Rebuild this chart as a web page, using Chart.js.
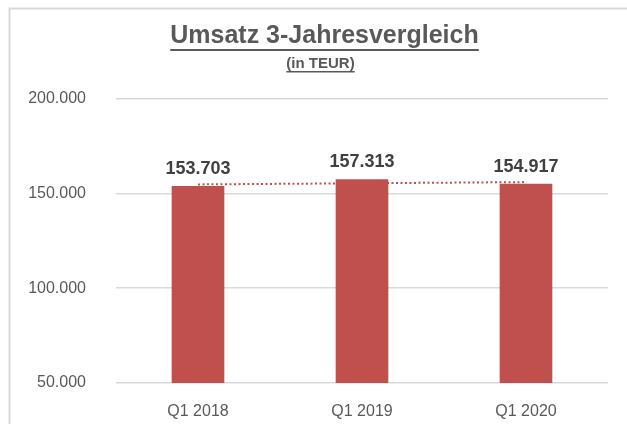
<!DOCTYPE html>
<html>
<head>
<meta charset="utf-8">
<script src="https://cdn.jsdelivr.net/npm/chart.js@4"></script>
<style>
    html, body { margin: 0; padding: 0; background: #fff; }
    #wrap { width: 627px; height: 424px; position: relative; }
</style>
</head>
<body>
<div id="wrap"><canvas id="umsatz-chart"></canvas></div>
<script>
// Umsatz 3-Jahresvergleich - bar chart with dotted linear trend

const quarters = ['Q1 2018', 'Q1 2019', 'Q1 2020'];
const umsatz = [153703, 157313, 154917];
const trendValues = [154700, 155310, 155920];
const yTicks = [50000, 100000, 150000, 200000];

const barColor = '#C0504D';
const textColor = '#595959';
const fontFamily = '"Liberation Sans", Arial, sans-serif';

function formatDE(n) {
    return String(Math.round(n)).replace(/\B(?=(\d{3})+(?!\d))/g, '.');
}

function findTextBox(chart, text) {
    return chart.boxes.find(b => b.options && b.options.text === text);
}

// frame around the chart (left + top edge only, like the screenshot)
const framePlugin = {
    id: 'frame',
    beforeDraw(chart) {
        const ctx = chart.ctx;
        ctx.save();
        ctx.fillStyle = '#fff';
        ctx.fillRect(0, 0, chart.width, chart.height);
        ctx.strokeStyle = '#d9d9d9';
        ctx.lineWidth = 2;
        ctx.beginPath();
        ctx.moveTo(9.5, chart.height);
        ctx.lineTo(9.5, 8.5);
        ctx.lineTo(chart.width, 8.5);
        ctx.stroke();
        ctx.restore();
    }
};

// the title in the original is centred a bit right of the canvas middle
const titleShiftPlugin = {
    id: 'titleShift',
    afterLayout(chart) {
        const t = findTextBox(chart, chart.options.plugins.title.text);
        const s = findTextBox(chart, chart.options.plugins.subtitle.text);
        if (t) { t.left = 41; t.right = 608; }
        if (s) { s.left = 33; s.right = 608; }
    }
};

// underline title and subtitle
const underlinePlugin = {
    id: 'underline',
    afterDraw(chart) {
        const ctx = chart.ctx;
        const t = findTextBox(chart, chart.options.plugins.title.text);
        const s = findTextBox(chart, chart.options.plugins.subtitle.text);
        ctx.save();
        ctx.fillStyle = textColor;

        if (t) {
            ctx.font = 'bold 25px ' + fontFamily;
            const w = ctx.measureText(t.options.text).width;
            const cx = (t.left + t.right) / 2;
            ctx.fillRect(cx - w / 2, t.top + 15 + 13, w, 2);
        }
        if (s) {
            ctx.font = 'bold 15px ' + fontFamily;
            const w = ctx.measureText(s.options.text).width;
            const cx = (s.left + s.right) / 2;
            ctx.fillRect(cx - w / 2, s.top + 9 + 7, w, 1.5);
        }
        ctx.restore();
    }
};

// values above the bars
const valueLabelPlugin = {
    id: 'valueLabels',
    afterDatasetsDraw(chart) {
        const ctx = chart.ctx;
        const meta = chart.getDatasetMeta(0);
        ctx.save();
        ctx.font = 'bold 18px ' + fontFamily;
        ctx.fillStyle = '#404040';
        ctx.textAlign = 'center';
        ctx.textBaseline = 'alphabetic';
        meta.data.forEach((bar, i) => {
            ctx.fillText(formatDE(umsatz[i]), bar.x, bar.y - 12.5);
        });
        ctx.restore();
    }
};

const ctx = document.getElementById('umsatz-chart');

new Chart(ctx, {
    type: 'bar',
    data: {
        labels: quarters,
        datasets: [
            {
                type: 'bar',
                label: 'Umsatz',
                data: umsatz,
                backgroundColor: barColor,
                borderWidth: 0,
                barThickness: 52,
                order: 2
            },
            {
                type: 'line',
                label: 'Trend',
                data: trendValues,
                borderColor: barColor,
                borderWidth: 2,
                borderDash: [2, 2.5],
                pointRadius: 0,
                fill: false,
                tension: 0,
                order: 1
            }
        ]
    },
    options: {
        responsive: true,
        maintainAspectRatio: false,
        animation: false,
        layout: {
            padding: { top: 21, left: 20, right: 19, bottom: 0 }
        },
        plugins: {
            legend: { display: false },
            tooltip: { enabled: false },
            title: {
                display: true,
                text: 'Umsatz 3-Jahresvergleich',
                color: textColor,
                font: { family: fontFamily, size: 25, weight: 'bold', lineHeight: 1.2 },
                padding: { top: 0, bottom: 4 }
            },
            subtitle: {
                display: true,
                text: '(in TEUR)',
                color: textColor,
                font: { family: fontFamily, size: 15, weight: 'bold', lineHeight: 1.2 },
                padding: { top: 0, bottom: 25.5 }
            }
        },
        scales: {
            x: {
                grid: { display: false },
                border: { display: false },
                ticks: {
                    color: textColor,
                    padding: 11,
                    font: { family: fontFamily, size: 16 }
                },
                afterFit(scale) { scale.height = 41; }
            },
            y: {
                min: 50000,
                max: 200000,
                border: { display: false },
                grid: { color: '#d9d9d9', lineWidth: 1.5, drawTicks: false },
                afterBuildTicks(scale) {
                    scale.ticks = yTicks.map(v => ({ value: v }));
                },
                ticks: {
                    color: textColor,
                    padding: 30,
                    font: { family: fontFamily, size: 16 },
                    callback: v => formatDE(v)
                },
                afterFit(scale) { scale.width = 96; }
            }
        }
    },
    plugins: [framePlugin, titleShiftPlugin, underlinePlugin, valueLabelPlugin]
});
</script>
</body>
</html>
